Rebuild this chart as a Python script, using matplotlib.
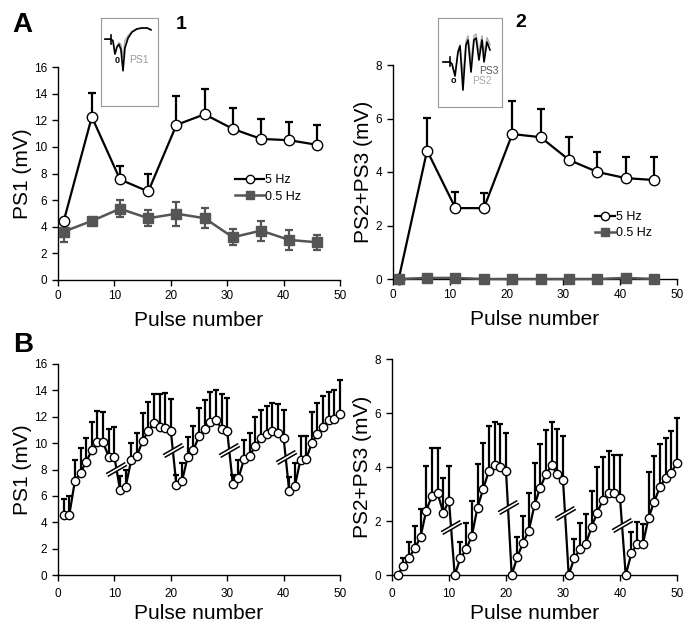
import numpy as np
import matplotlib
matplotlib.use('Agg')
import matplotlib.pyplot as plt
from matplotlib.path import Path

plt.rcParams['font.family'] = ['Liberation Sans', 'DejaVu Sans']

# panel A: every 5th pulse
pulses_a = [1, 6, 11, 16, 21, 26, 31, 36, 41, 46]
ps1_5hz = [4.4, 12.25, 7.55, 6.65, 11.65, 12.45, 11.35, 10.6, 10.5, 10.15]
ps1_5hz_err = [0.2, 1.8, 1.0, 1.3, 2.2, 1.9, 1.6, 1.5, 1.4, 1.5]
ps1_05hz = [3.63, 4.44, 5.35, 4.64, 4.98, 4.64, 3.21, 3.71, 3.01, 2.83]
ps1_05hz_err = [0.8, 0.1, 0.65, 0.6, 0.9, 0.75, 0.6, 0.75, 0.75, 0.55]

ps23_5hz = [0.0, 4.8, 2.65, 2.65, 5.42, 5.3, 4.45, 4.0, 3.77, 3.7]
ps23_5hz_err = [0.0, 1.22, 0.6, 0.55, 1.25, 1.05, 0.85, 0.75, 0.78, 0.85]
ps23_05hz = [0.0, 0.04, 0.04, 0.0, 0.0, 0.0, 0.0, 0.0, 0.04, 0.0]

# panel B: all 50 pulses at 5 Hz
pulses_b = list(range(1, 51))
ps1_b = [4.55, 4.55, 7.15, 7.75, 8.6, 9.45, 10.1, 10.05, 8.95, 8.95,
         6.45, 6.7, 8.75, 9.05, 10.15, 10.95, 11.5, 11.25, 11.15, 10.95,
         6.8, 7.15, 8.95, 9.45, 10.55, 11.1, 11.6, 11.75, 11.1, 10.9,
         6.9, 7.35, 8.8, 9.05, 9.8, 10.4, 10.7, 10.95, 10.8, 10.4,
         6.35, 6.75, 8.75, 8.8, 10.0, 10.7, 11.25, 11.75, 11.8, 12.2]
ps1_b_err = [1.2, 1.45, 1.55, 1.9, 1.8, 2.15, 2.3, 2.3, 2.1, 2.25,
             1.05, 1.3, 1.25, 1.75, 2.15, 2.2, 2.2, 2.45, 2.65, 2.4,
             0.8, 1.35, 1.55, 1.85, 2.1, 2.2, 2.25, 2.3, 2.6, 2.55,
             0.7, 1.35, 1.45, 1.75, 2.15, 2.1, 2.1, 2.1, 2.2, 2.1,
             1.1, 1.75, 1.8, 1.75, 2.35, 2.35, 2.35, 2.15, 2.25, 2.55]
ps23_b = [0.0, 0.33, 0.64, 0.99, 1.4, 2.38, 2.93, 3.02, 2.31, 2.75,
          0.0, 0.62, 0.95, 1.44, 2.5, 3.19, 3.86, 4.07, 4.01, 3.86,
          0.0, 0.68, 1.2, 1.64, 2.59, 3.23, 3.73, 4.07, 3.73, 3.52,
          0.0, 0.64, 0.95, 1.15, 1.77, 2.31, 2.78, 3.05, 3.05, 2.86,
          0.0, 0.8, 1.15, 1.14, 2.1, 2.72, 3.25, 3.6, 3.79, 4.16]
ps23_b_err = [0.0, 0.29, 0.59, 0.81, 1.05, 1.67, 1.76, 1.7, 1.27, 1.3,
              0.0, 0.61, 0.96, 1.3, 1.61, 1.69, 1.66, 1.61, 1.57, 1.41,
              0.0, 0.74, 0.99, 1.38, 1.57, 1.62, 1.64, 1.61, 1.68, 1.63,
              0.0, 0.68, 0.96, 1.1, 1.34, 1.68, 1.6, 1.54, 1.39, 1.58,
              0.0, 0.78, 0.83, 0.74, 1.73, 1.69, 1.6, 1.49, 1.54, 1.64]
break_after = [10, 20, 30, 40]

# inset sketches (inset-box fractions)
trace1_x = [0.07, 0.175, 0.21, 0.245, 0.28, 0.316, 0.35, 0.386, 0.42, 0.474, 0.544, 0.63, 0.72, 0.81, 0.877]
trace1_y = [0.76, 0.76, 0.74, 0.59, 0.67, 0.70, 0.64, 0.40, 0.66, 0.77, 0.84, 0.875, 0.886, 0.886, 0.864]
trace1g_y = [0.76, 0.76, 0.74, 0.60, 0.68, 0.72, 0.70, 0.55, 0.74, 0.80, 0.85, 0.88, 0.89, 0.89, 0.87]
trace2_x = [0.078, 0.1875, 0.219, 0.266, 0.3125, 0.344, 0.39, 0.4375, 0.469, 0.516, 0.5625, 0.594, 0.64, 0.6875, 0.719, 0.766, 0.8125]
trace2_y = [0.506, 0.506, 0.483, 0.348, 0.618, 0.685, 0.19, 0.697, 0.753, 0.393, 0.753, 0.775, 0.528, 0.753, 0.506, 0.73, 0.64]
trace2g_y = [0.506, 0.506, 0.483, 0.36, 0.63, 0.70, 0.35, 0.74, 0.80, 0.52, 0.80, 0.82, 0.62, 0.80, 0.60, 0.78, 0.70]

GRAY = '#555555'
W, H = 683, 624

fig = plt.figure(figsize=(W / 100, H / 100), dpi=100)


def px_axes(x0, y0, x1, y1):
    return fig.add_axes([x0 / W, 1 - y1 / H, (x1 - x0) / W, (y1 - y0) / H])


def style(ax, ymax, ystep, ylabel, tpad, xpad):
    for s in ['top', 'right']:
        ax.spines[s].set_visible(False)
    for s in ['left', 'bottom']:
        ax.spines[s].set_linewidth(1.0)
    ax.set_xlim(0, 50)
    ax.set_ylim(0, ymax)
    ax.set_xticks(range(0, 51, 10))
    ax.set_yticks(np.arange(0, ymax + 0.1, ystep))
    ax.tick_params(direction='out', length=4, width=1, labelsize=8.5, pad=4)
    ax.tick_params(axis='x', pad=tpad)
    ax.set_xlabel('Pulse number', fontsize=15, labelpad=xpad)
    ax.set_ylabel(ylabel, fontsize=15, labelpad=1.5)


def five_hz(ax, x, y, err, ms, cap, z=3):
    ax.errorbar(x, y, yerr=[np.zeros(len(err)), err], fmt='none', ecolor='black',
                elinewidth=1.6, capsize=cap, capthick=1.6, zorder=z - 1, clip_on=False)
    ax.plot(x, y, '-o', color='black', lw=1.6, ms=ms, mfc='white', mec='black',
            mew=1.0, zorder=z, clip_on=False, label='5 Hz')


def half_hz(ax, x, y, err, z=5):
    if err is not None:
        ax.errorbar(x, y, yerr=err, fmt='none', ecolor=GRAY, elinewidth=1.6,
                    capsize=3, capthick=1.6, zorder=z - 1, clip_on=False)
    ax.plot(x, y, '-s', color=GRAY, lw=1.8, ms=6.5, mfc=GRAY, mec=GRAY,
            zorder=z, clip_on=False, label='0.5 Hz')


# break marks "//"
gap_path = Path([(-0.975, -0.39), (0.825, 0.65), (0.975, 0.39), (-0.825, -0.65), (-0.975, -0.39)],
                [Path.MOVETO, Path.LINETO, Path.LINETO, Path.LINETO, Path.CLOSEPOLY])
slash_path = Path([(-0.975, -0.39), (0.825, 0.65), (-0.825, -0.65), (0.975, 0.39)],
                  [Path.MOVETO, Path.LINETO, Path.MOVETO, Path.LINETO])


def breaks(ax, y):
    bx = [p + 0.35 for p in break_after]
    by = [y[p - 1] + 0.35 * (y[p] - y[p - 1]) for p in break_after]
    ax.plot(bx, by, ls='none', marker=gap_path, ms=15, mfc='white', mec='white', mew=0.5, zorder=4)
    ax.plot(bx, by, ls='none', marker=slash_path, ms=15, mfc='none', mec='black', mew=1.1, zorder=5)


# A1
ax1 = px_axes(58, 67, 340, 280)
style(ax1, 16, 2, 'PS1 (mV)', 3.5, 6)
half_hz(ax1, pulses_a, ps1_05hz, ps1_05hz_err, z=3)
five_hz(ax1, pulses_a, ps1_5hz, ps1_5hz_err, 7.5, 3, z=5)
h, l = ax1.get_legend_handles_labels()
ax1.legend(h[::-1], l[::-1], loc='upper left', bbox_to_anchor=(0.607, 0.525), frameon=False,
           fontsize=9, handlelength=2.3, handletextpad=0.1, labelspacing=0.35,
           borderpad=0, markerscale=0.8)

# A2
ax2 = px_axes(393, 65, 677, 279)
style(ax2, 8, 2, 'PS2+PS3 (mV)', 3.5, 6)
five_hz(ax2, pulses_a, ps23_5hz, ps23_5hz_err, 7.5, 3)
half_hz(ax2, pulses_a, ps23_05hz, None)
h, l = ax2.get_legend_handles_labels()
ax2.legend(h, l, loc='upper left', bbox_to_anchor=(0.69, 0.347), frameon=False,
           fontsize=9, handlelength=1.6, handletextpad=0.05, labelspacing=0.35,
           borderpad=0, markerscale=0.8)

# B1
ax3 = px_axes(58, 364, 340, 575)
style(ax3, 16, 2, 'PS1 (mV)', 5.5, 2.5)
five_hz(ax3, pulses_b, ps1_b, ps1_b_err, 6, 2.3)
breaks(ax3, ps1_b)

# B2
ax4 = px_axes(392, 359, 677, 575)
style(ax4, 8, 2, 'PS2+PS3 (mV)', 5.5, 2.5)
five_hz(ax4, pulses_b, ps23_b, ps23_b_err, 6, 2.3)
breaks(ax4, ps23_b)

# insets
in1 = px_axes(101, 18, 158, 106)
in1.plot(trace1_x, trace1g_y, color='#aaaaaa', lw=1.0)
in1.plot(trace1_x, trace1_y, color='black', lw=1.2)
in1.plot([0.175, 0.175], [0.71, 0.81], color='black', lw=1.2)
in1.text(0.28, 0.52, '0', fontsize=6.5, fontweight='bold', ha='center', va='center')
in1.text(0.66, 0.52, 'PS1', fontsize=7.5, color='#999999', ha='center', va='center')

in2 = px_axes(438, 18, 502, 107)
in2.plot(trace2_x, trace2g_y, color='#aaaaaa', lw=1.0)
in2.plot(trace2_x, trace2_y, color='black', lw=1.2)
in2.plot([0.1875, 0.1875], [0.46, 0.56], color='black', lw=1.2)
in2.text(0.234, 0.30, 'o', fontsize=6.5, fontweight='bold', ha='center', va='center')
in2.text(0.68, 0.29, 'PS2', fontsize=7.5, color='#aaaaaa', ha='center', va='center')
in2.text(0.80, 0.41, 'PS3', fontsize=7.5, color='#555555', ha='center', va='center')

for ax in (in1, in2):
    ax.set_xlim(0, 1)
    ax.set_ylim(0, 1)
    ax.set_xticks([])
    ax.set_yticks([])
    for s in ax.spines.values():
        s.set_color('#999999')
        s.set_linewidth(0.8)

fig.text(12 / W, 1 - 12 / H, 'A', fontsize=20, fontweight='bold', va='top', ha='left')
fig.text(13 / W, 1 - 332 / H, 'B', fontsize=20, fontweight='bold', va='top', ha='left')
fig.text(181 / W, 1 - 16 / H, '1', fontsize=14, fontweight='bold', va='top', ha='center')
fig.text(521 / W, 1 - 14 / H, '2', fontsize=14, fontweight='bold', va='top', ha='center')

fig.savefig('out.png', dpi=100)
